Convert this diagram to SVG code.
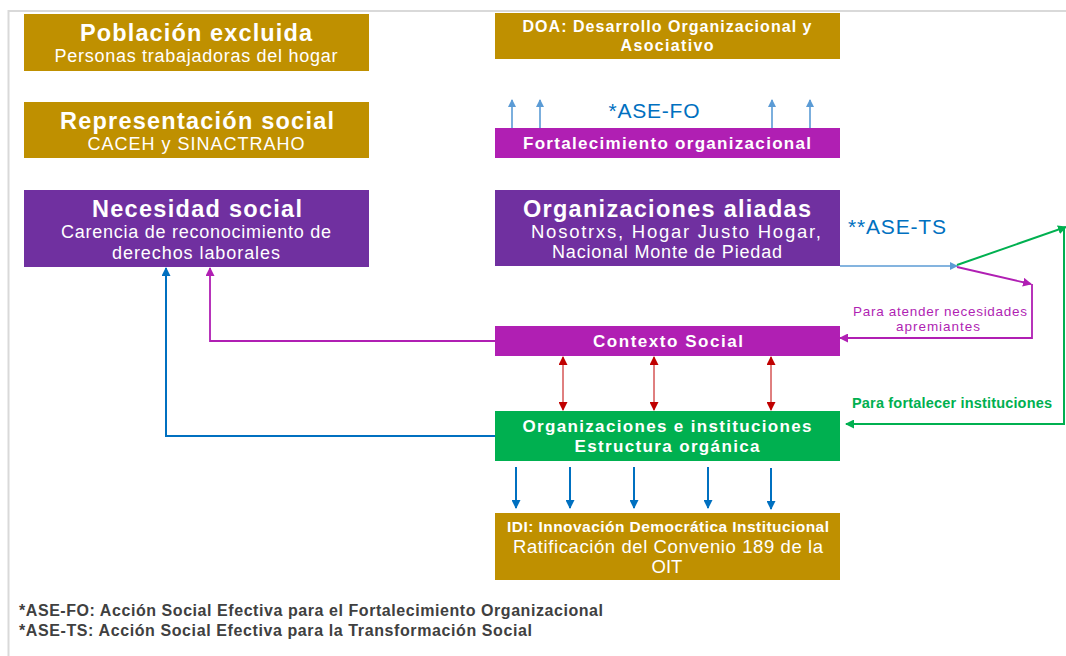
<svg xmlns="http://www.w3.org/2000/svg" width="1066" height="656" viewBox="0 0 1066 656">
<style>
text{font-family:"Liberation Sans",Arial,sans-serif;text-anchor:middle;fill:#fff}
.t{font-weight:bold;font-size:23.5px}
.s{font-size:18px}
.b{font-weight:bold;font-size:17px}
.gold{fill:#BF9000}
.pur{fill:#7030A0}
.mag{fill:#B01FB3}
.grn{fill:#00B050}
.lb{stroke:#5B9BD5;stroke-width:1.6;fill:none}
.db{stroke:#0070C0;stroke-width:2;fill:none}
.rd{stroke:#C00000;stroke-width:1;fill:none}
.mg{stroke:#B01FB3;stroke-width:1.8;fill:none}
.gn{stroke:#00B050;stroke-width:2;fill:none}
</style>
<defs>
<marker id="aLB" markerWidth="8" markerHeight="8" refX="7" refY="4" orient="auto" markerUnits="userSpaceOnUse"><path d="M0,0 L8,4 L0,8 z" fill="#5B9BD5"/></marker>
<marker id="aDB" markerWidth="9" markerHeight="9" refX="8" refY="4.5" orient="auto" markerUnits="userSpaceOnUse"><path d="M0,0 L9,4.5 L0,9 z" fill="#0070C0"/></marker>
<marker id="aRD" markerWidth="9" markerHeight="9" refX="8" refY="4.5" orient="auto-start-reverse" markerUnits="userSpaceOnUse"><path d="M0,0 L9,4.5 L0,9 z" fill="#C00000"/></marker>
<marker id="aMG" markerWidth="9" markerHeight="9" refX="8" refY="4.5" orient="auto" markerUnits="userSpaceOnUse"><path d="M0,0 L9,4.5 L0,9 z" fill="#B01FB3"/></marker>
<marker id="aGN" markerWidth="9" markerHeight="9" refX="8" refY="4.5" orient="auto" markerUnits="userSpaceOnUse"><path d="M0,0 L9,4.5 L0,9 z" fill="#00B050"/></marker>
</defs>
<rect width="1066" height="656" fill="#fff"/>
<path d="M8.5,656 V11 H1066" stroke="#D9D9D9" stroke-width="2" fill="none"/>

<g id="poblacion">
<rect class="gold" x="24" y="14" width="345" height="57"/>
<text class="t" x="196" y="41" textLength="232" lengthAdjust="spacing">Población excluida</text>
<text class="s" x="196" y="62" textLength="283" lengthAdjust="spacing">Personas trabajadoras del hogar</text>
</g>
<g id="representacion">
<rect class="gold" x="24" y="102" width="345" height="56"/>
<text class="t" x="197" y="129" textLength="274" lengthAdjust="spacing">Representación social</text>
<text class="s" x="196" y="150" textLength="217" lengthAdjust="spacing">CACEH y SINACTRAHO</text>
</g>
<g id="necesidad">
<rect class="pur" x="24" y="190" width="345" height="77"/>
<text class="t" x="197" y="217" textLength="210" lengthAdjust="spacing">Necesidad social</text>
<text class="s" x="196" y="238" textLength="270" lengthAdjust="spacing">Carencia de reconocimiento de</text>
<text class="s" x="196" y="259" textLength="168" lengthAdjust="spacing">derechos laborales</text>
</g>
<g id="doa">
<rect class="gold" x="495" y="13" width="345" height="46"/>
<text x="667" y="32" style="font-weight:bold;font-size:16px" textLength="289" lengthAdjust="spacing">DOA: Desarrollo Organizacional y</text>
<text x="667" y="51" style="font-weight:bold;font-size:16px" textLength="93" lengthAdjust="spacing">Asociativo</text>
</g>
<g id="fortalecimiento">
<rect class="mag" x="495" y="128" width="345" height="30"/>
<text class="b" x="667" y="149" textLength="288" lengthAdjust="spacing">Fortalecimiento organizacional</text>
</g>
<g id="aliadas">
<rect class="pur" x="495" y="190" width="345" height="76"/>
<text class="t" x="667" y="217" textLength="288" lengthAdjust="spacing">Organizaciones aliadas</text>
<text x="676" y="238" style="font-size:18.5px" textLength="290" lengthAdjust="spacing">Nosotrxs, Hogar Justo Hogar,</text>
<text class="s" x="667" y="258" textLength="230" lengthAdjust="spacing">Nacional Monte de Piedad</text>
</g>
<g id="contexto">
<rect class="mag" x="495" y="326" width="345" height="30"/>
<text class="b" x="668" y="347" textLength="150" lengthAdjust="spacing">Contexto Social</text>
</g>
<g id="instituciones">
<rect class="grn" x="495" y="411" width="345" height="50"/>
<text class="b" x="667" y="432" textLength="289" lengthAdjust="spacing">Organizaciones e instituciones</text>
<text class="b" x="667" y="452" textLength="185" lengthAdjust="spacing">Estructura orgánica</text>
</g>
<g id="idi">
<rect class="gold" x="495" y="513" width="345" height="67"/>
<text x="668" y="532" style="font-weight:bold;font-size:15.5px" textLength="322" lengthAdjust="spacing">IDI: Innovación Democrática Institucional</text>
<text x="668" y="553" style="font-size:18.5px" textLength="310" lengthAdjust="spacing">Ratificación del Convenio 189 de la</text>
<text x="667" y="573" style="font-size:18.5px">OIT</text>
</g>

<g id="connectors">
<path class="lb" d="M512,128 V100" marker-end="url(#aLB)"/>
<path class="lb" d="M540,128 V100" marker-end="url(#aLB)"/>
<path class="lb" d="M772,128 V100" marker-end="url(#aLB)"/>
<path class="lb" d="M810,128 V100" marker-end="url(#aLB)"/>
<path class="lb" d="M840,266 H957" marker-end="url(#aLB)"/>
<path class="gn" d="M957,265 L1066,227" marker-end="url(#aGN)"/>
<path class="gn" d="M1064,227 V424 H846" marker-end="url(#aGN)"/>
<path class="mg" d="M957,267 L1031,284" marker-end="url(#aMG)"/>
<path class="mg" d="M1032,284 V338 H840" marker-end="url(#aMG)"/>
<path class="rd" d="M563,357 V410" marker-start="url(#aRD)" marker-end="url(#aRD)"/>
<path class="rd" d="M654,357 V410" marker-start="url(#aRD)" marker-end="url(#aRD)"/>
<path class="rd" d="M771,357 V410" marker-start="url(#aRD)" marker-end="url(#aRD)"/>
<path class="db" d="M516,467 V508" marker-end="url(#aDB)"/>
<path class="db" d="M570,467 V508" marker-end="url(#aDB)"/>
<path class="db" d="M634,467 V508" marker-end="url(#aDB)"/>
<path class="db" d="M708,467 V508" marker-end="url(#aDB)"/>
<path class="db" d="M771,468 V509" marker-end="url(#aDB)"/>
<path class="db" d="M495,436 H166 V268" marker-end="url(#aDB)"/>
<path class="mg" d="M495,341 H210 V268" marker-end="url(#aMG)"/>
<text x="654" y="118" style="fill:#0070C0;font-size:21px" textLength="91" lengthAdjust="spacing">*ASE-FO</text>
<text x="897" y="234" style="fill:#0070C0;font-size:21px" textLength="98" lengthAdjust="spacing">**ASE-TS</text>
<text x="940" y="316" style="fill:#B01FB3;font-size:13.5px" textLength="174" lengthAdjust="spacing">Para atender necesidades</text>
<text x="938" y="331" style="fill:#B01FB3;font-size:13.5px" textLength="84" lengthAdjust="spacing">apremiantes</text>
<text x="952" y="408" style="fill:#00B050;font-size:14.5px;font-weight:bold" textLength="200" lengthAdjust="spacing">Para fortalecer instituciones</text>
</g>

<g id="notas">
<text x="19" y="616" style="fill:#404040;font-size:16px;font-weight:bold;text-anchor:start" textLength="584" lengthAdjust="spacing">*ASE-FO: Acción Social Efectiva para el Fortalecimiento Organizacional</text>
<text x="19" y="636" style="fill:#404040;font-size:16px;font-weight:bold;text-anchor:start" textLength="513" lengthAdjust="spacing">*ASE-TS: Acción Social Efectiva para la Transformación Social</text>
</g>
</svg>
